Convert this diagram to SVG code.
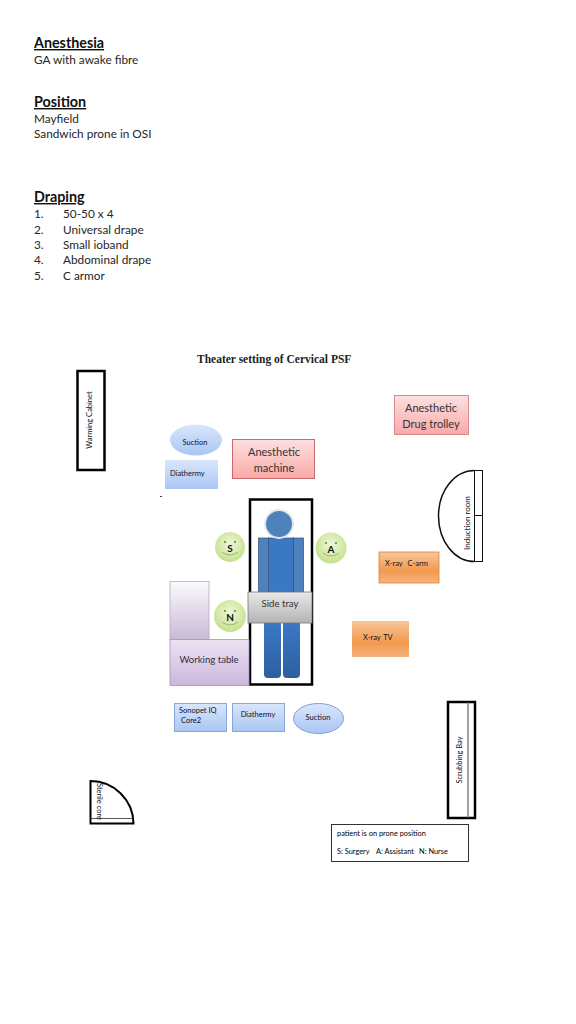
<svg xmlns="http://www.w3.org/2000/svg" width="576" height="1024" viewBox="0 0 576 1024">
<style>
text{font-family:Lato,"Liberation Sans",sans-serif;fill:#262626}
.h{font-size:14.300px;font-weight:700;fill:#111;text-decoration:underline}
.b{font-size:11.800px}
.m{font-size:11px;text-anchor:middle;fill:#333}
.m2{font-size:9.600px;text-anchor:middle;fill:#333}
.s{font-size:7.500px;fill:#112}
.o{fill:#fff;stroke:#000;stroke-width:2.500}
.l{font-size:7.400px;fill:#000}
.f{font-size:10px;font-weight:700;text-anchor:middle;fill:#111}
.e{fill:#5a7a3a}
.sm{fill:none;stroke:#9ab878;stroke-width:1}
</style>
<defs>
<linearGradient id="gb" x1="0" y1="0" x2="0" y2="1"><stop offset="0" stop-color="#d9e6fb"/><stop offset="1" stop-color="#a9c6f5"/></linearGradient>
<linearGradient id="gr" x1="0" y1="0" x2="0" y2="1"><stop offset="0" stop-color="#fde0e0"/><stop offset="1" stop-color="#f9a9a9"/></linearGradient>
<linearGradient id="go" x1="0" y1="0" x2="0" y2="1"><stop offset="0" stop-color="#f9c69a"/><stop offset="0.6" stop-color="#f29a4e"/><stop offset="1" stop-color="#f6b27c"/></linearGradient>
<linearGradient id="gp" x1="0" y1="0" x2="0" y2="1"><stop offset="0" stop-color="#ece3f2"/><stop offset="1" stop-color="#cdb6de"/></linearGradient>
<linearGradient id="gw" x1="0" y1="0" x2="0" y2="1"><stop offset="0" stop-color="#fbfafc"/><stop offset="1" stop-color="#c9b9d6"/></linearGradient>
<linearGradient id="gg" x1="0" y1="0" x2="0" y2="1"><stop offset="0" stop-color="#e8e8e8"/><stop offset="1" stop-color="#b4b4b4"/></linearGradient>
<linearGradient id="gl" x1="0" y1="0" x2="0" y2="1"><stop offset="0" stop-color="#3b78c4"/><stop offset="1" stop-color="#2d5f9f"/></linearGradient>
<radialGradient id="gf" cx="0.5" cy="0.4" r="0.6"><stop offset="0" stop-color="#f0f8d8"/><stop offset="1" stop-color="#c4e08c"/></radialGradient>
</defs>

<g id="notes">
<text class="h" x="34" y="48">Anesthesia</text>
<text class="b" x="34" y="64">GA with awake fibre</text>
<text class="h" x="34" y="107">Position</text>
<text class="b" x="34" y="123">Mayfield</text>
<text class="b" x="34" y="138">Sandwich prone in OSI</text>
<text class="h" x="34" y="202">Draping</text>
<text class="b" x="34" y="218">1.</text><text class="b" x="63" y="218">50-50 x 4</text>
<text class="b" x="34" y="234">2.</text><text class="b" x="63" y="234">Universal drape</text>
<text class="b" x="34" y="249">3.</text><text class="b" x="63" y="249">Small ioband</text>
<text class="b" x="34" y="264">4.</text><text class="b" x="63" y="264">Abdominal drape</text>
<text class="b" x="34" y="280">5.</text><text class="b" x="63" y="280">C armor</text>
</g>
<text id="title" x="197" y="363" style="font-family:'Liberation Serif',serif;font-size:11.500px;font-weight:700;fill:#222">Theater setting of Cervical PSF</text>

<g id="warming-cabinet"><rect class="o" x="77.500" y="371" width="27" height="99"/>
<text class="s" transform="translate(92,420) rotate(-90)" text-anchor="middle">Warming Cabinet</text></g>

<g id="suction-top"><ellipse cx="196" cy="440" rx="26" ry="15.500" fill="url(#gb)"/><text class="s" x="195" y="445" text-anchor="middle">Suction</text></g>
<g id="diathermy-top"><rect x="165" y="460" width="53" height="29" fill="url(#gb)"/><text class="s" x="170" y="476">Diathermy</text></g>
<rect id="dash" x="160" y="496" width="2" height="1" fill="#444"/>
<g id="anesthetic-machine"><rect x="232.500" y="439.500" width="82" height="39" fill="url(#gr)" stroke="#c96a6a"/>
<text class="m" x="274" y="456">Anesthetic</text><text class="m" x="274" y="472">machine</text></g>

<g id="drug-trolley"><rect x="394.500" y="395.500" width="74" height="39" fill="url(#gr)" stroke="#d98a8a"/>
<text class="m" x="431" y="412">Anesthetic</text><text class="m" x="431" y="428">Drug trolley</text></g>

<g id="induction-room"><path d="M474.500,470.500 A36,45.500 0 0 0 474.500,561.500" fill="none" stroke="#111" stroke-width="1.500"/><rect x="474.500" y="470.500" width="8" height="91" fill="#fff" stroke="#111"/><line x1="474.500" y1="515.500" x2="482.500" y2="515.500" stroke="#111"/>
<text class="s" style="font-size:8px" transform="translate(470,523) rotate(-90)" text-anchor="middle">Induction room</text></g>

<g id="x-ray-c-arm"><rect x="379" y="552" width="60" height="31" fill="url(#go)" stroke="#d9823a" stroke-width="0.800"/><text class="s" x="385" y="566" word-spacing="3">X-ray C-arm</text></g>
<g id="x-ray-tv"><rect x="352" y="621" width="57" height="36" fill="url(#go)"/><text class="s" x="363" y="640" word-spacing="1">X-ray TV</text></g>

<g id="table"><rect x="250" y="499.500" width="62" height="185" fill="#fff" stroke="#000" stroke-width="2.500"/></g>
<g id="patient">
<rect x="258.500" y="538" width="11" height="55" fill="#4f81bd" stroke="#2f4f78" stroke-width="0.700"/>
<rect x="292.500" y="538" width="11" height="55" fill="#4f81bd" stroke="#2f4f78" stroke-width="0.700"/>
<rect x="268.500" y="538" width="25" height="55" fill="#3b78c4" stroke="#2f4f78" stroke-width="0.700"/>
<path d="M264,622H281V674a4,4 0 0 1-4,4H268a4,4 0 0 1-4-4Z" fill="url(#gl)"/>
<path d="M283,622H300V674a4,4 0 0 1-4,4H287a4,4 0 0 1-4-4Z" fill="url(#gl)"/>
<circle cx="279" cy="524" r="14" fill="#4f81bd" stroke="#e4e6ea" stroke-width="2"/>
</g>
<g id="side-tray"><rect x="248" y="592" width="64" height="31" fill="url(#gg)" stroke="#777" stroke-width="0.800"/><text class="m2" x="280" y="607">Side tray</text></g>

<g id="surgeon"><circle cx="230" cy="547" r="15" fill="url(#gf)"/><circle class="e" cx="225" cy="542" r="1"/><circle class="e" cx="235" cy="542" r="1"/><path class="sm" d="M222,552Q230,558 238,552"/><text class="f" x="230" y="552">S</text></g>
<g id="assistant"><circle cx="331" cy="548" r="15.500" fill="url(#gf)"/><circle class="e" cx="326" cy="543" r="1"/><circle class="e" cx="336" cy="543" r="1"/><path class="sm" d="M323,553Q331,559 339,553"/><text class="f" x="331" y="553">A</text></g>
<g id="nurse"><circle cx="230" cy="616" r="16" fill="url(#gf)"/><circle class="e" cx="225" cy="611" r="1"/><circle class="e" cx="235" cy="611" r="1"/><path class="sm" d="M222,622Q230,628 238,622"/><text class="f" x="230" y="621">N</text></g>

<g id="working-table"><rect x="170" y="581.500" width="39" height="58" fill="url(#gw)" stroke="#b9a9c6" stroke-width="0.800"/>
<rect x="170" y="639.500" width="79" height="46" fill="url(#gp)" stroke="#a890bc" stroke-width="0.800"/>
<text class="m2" x="209" y="663">Working table</text></g>

<g id="sonopet"><rect x="174.500" y="703.500" width="52" height="28" fill="url(#gb)" stroke="#86a8d6"/><text class="s" x="179" y="713">Sonopet IQ</text><text class="s" x="181" y="723">Core2</text></g>
<g id="diathermy-bottom"><rect x="232.500" y="703.500" width="52" height="28" fill="url(#gb)" stroke="#86a8d6"/><text class="s" x="258" y="717" text-anchor="middle">Diathermy</text></g>
<g id="suction-bottom"><ellipse cx="318.500" cy="718.500" rx="25" ry="15" fill="url(#gb)" stroke="#7f9fd0"/><text class="s" x="318" y="720" text-anchor="middle">Suction</text></g>

<g id="sterile-core"><path d="M90.500,781V823.500H133.500A43,43 0 0 0 90.500,781Z" fill="#fff" stroke="#000" stroke-width="2"/><line x1="91" y1="818.500" x2="133" y2="818.500" stroke="#555"/>
<text class="s" transform="translate(97,783) rotate(90)">Sterile core</text></g>

<g id="scrubbing-bay"><rect class="o" x="448" y="702" width="27" height="116"/><line x1="468" y1="702" x2="468" y2="818" stroke="#666" stroke-width="1.200"/>
<text class="s" transform="translate(462,760) rotate(-90)" text-anchor="middle">Scrubbing Bay</text></g>

<g id="legend"><rect x="331.500" y="824.500" width="137" height="37" fill="#fff" stroke="#333"/>
<text class="l" x="337" y="836">patient is on prone position</text>
<text class="l" x="337" y="854">S: Surgery</text><text class="l" x="376" y="854">A: Assistant</text><text class="l" x="419" y="854">N: Nurse</text></g>

<g id="connectors"></g>
</svg>
